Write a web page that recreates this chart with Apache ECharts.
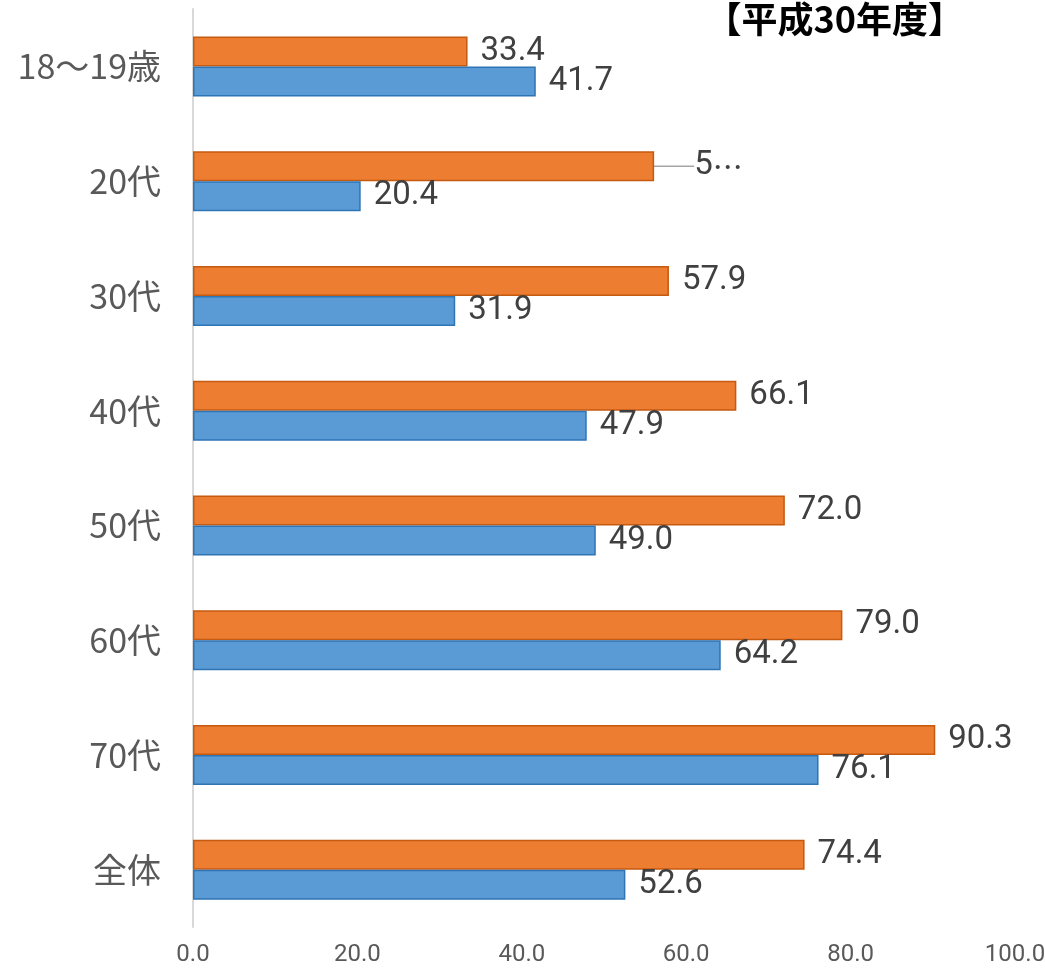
<!DOCTYPE html>
<html><head><meta charset="utf-8">
<script src="https://cdn.jsdelivr.net/npm/echarts@6/dist/echarts.min.js"></script>
<style>html,body{margin:0;padding:0;background:#fff}#c{width:1045px;height:970px}</style>
</head><body><div id="c"></div>
<script>
var categories = ['18〜19歳','20代','30代','40代','50代','60代','70代','全体'];
var seriesOrange = [33.4, 56.1, 57.9, 66.1, 72.0, 79.0, 90.3, 74.4];
var seriesBlue = [41.7, 20.4, 31.9, 47.9, 49.0, 64.2, 76.1, 52.6];
var xTicks = [0, 20, 40, 60, 80, 100];
var titleText = '【平成30年度】';

var numFont = 'Roboto, sans-serif';
var cjkFont = '"Noto Sans CJK JP", sans-serif';

var chart = echarts.init(document.getElementById('c'));
chart.setOption({
  animation: false,
  title: {
    text: titleText, right: 76, top: -4,
    textStyle: {fontFamily: cjkFont, fontSize: 36, fontWeight: 'bold', color: '#000'}
  },
  grid: {left: 193, right: 30, top: 9, bottom: 43, containLabel: false, outerBoundsMode: 'none'},
  xAxis: {
    type: 'value', min: xTicks[0], max: xTicks[xTicks.length-1], interval: 20,
    axisLine: {show: false}, axisTick: {show: false}, splitLine: {show: false},
    axisLabel: {formatter: function(v){return v.toFixed(1);}, fontFamily: numFont, fontSize: 24, color: '#595959', margin: 16}
  },
  yAxis: {
    type: 'category', data: categories, inverse: true,
    axisLine: {show: true, lineStyle: {color: '#d9d9d9', width: 2}},
    axisTick: {show: false},
    axisLabel: {fontFamily: cjkFont, fontSize: 34, color: '#595959', margin: 32}
  },
  series: [
    {
      name: 'orange', type: 'bar', data: seriesOrange.map(function(v, i){
        if (i === 1) {
          return {value: v, label: {formatter: '5{d|⋯}', rich: {d: {fontFamily: cjkFont, fontSize: 30, color: '#404040'}}},
            labelLine: {show: true, lineStyle: {color: '#a6a6a6', width: 1.5}}};
        }
        return v;
      }),
      barWidth: 30, barGap: '0%',
      itemStyle: {color: '#ED7D31', borderColor: '#C55A11', borderWidth: 1.5},
      label: {show: true, position: 'right', distance: 13, fontFamily: numFont, fontSize: 33, color: '#404040',
        formatter: function(p){return p.value.toFixed(1);}},
      labelLayout: function(params){
        if (params.dataIndex === 1) return {dx: 27};
        return {};
      }
    },
    {
      name: 'blue', type: 'bar', data: seriesBlue,
      barWidth: 30, barGap: '0%',
      itemStyle: {color: '#5B9BD5', borderColor: '#2E75B6', borderWidth: 1.5},
      label: {show: true, position: 'right', distance: 13, fontFamily: numFont, fontSize: 33, color: '#404040',
        formatter: function(p){return p.value.toFixed(1);}}
    }
  ]
});
</script>
</body></html>
